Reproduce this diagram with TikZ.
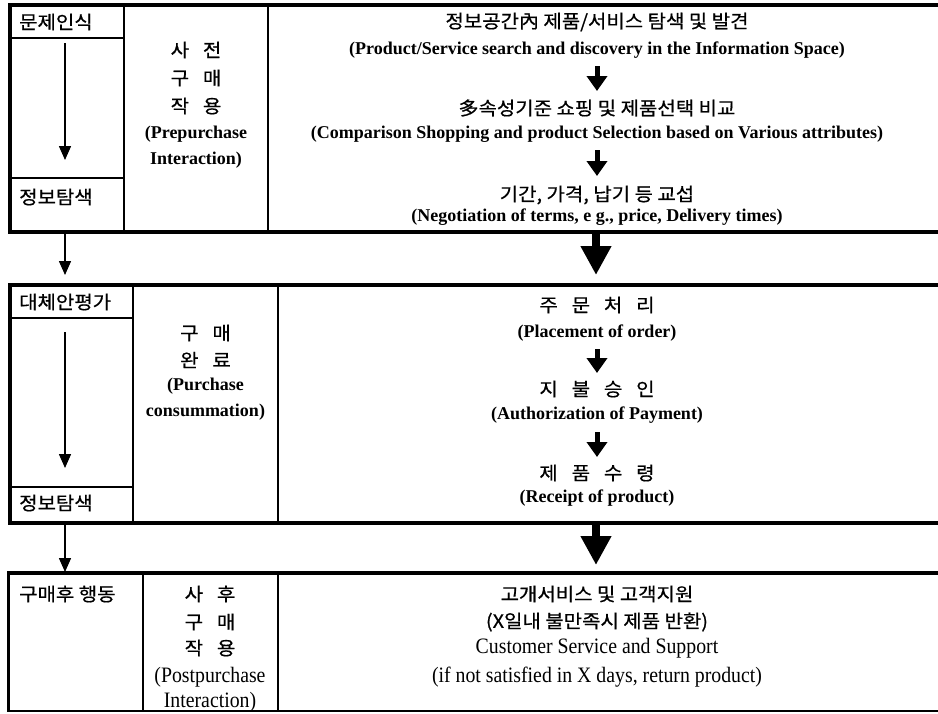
\documentclass[tikz,border=0pt]{standalone}
\usepackage{fontspec}
\setmainfont{Liberation Serif}
\newfontfamily\kr[FakeStretch=1.08,FakeBold=0.6]{Noto Sans CJK KR}
\newfontfamily\enc[FakeStretch=0.9]{Liberation Serif}
\usetikzlibrary{arrows.meta}
\tikzset{
  thickrule/.style={line width=4pt, line join=miter},
  thinrule/.style={line width=2pt},
  kr/.style={font=\kr\fontsize{18.5}{20}\selectfont, inner sep=0pt},
  en/.style={font=\bfseries\fontsize{18}{20}\selectfont, inner sep=0pt},
  ens/.style={font=\enc\fontsize{22}{24}\selectfont, inner sep=0pt},
  thinarrow/.style={line width=1.5pt, -{Triangle[width=12pt,length=14pt]}},
  smallarrow/.style={line width=5pt, -{Triangle[width=20pt,length=15pt]}},
  bigarrow/.style={line width=8pt, -{Triangle[width=29pt,length=29pt]}}
}
\newcommand{\gap}{\hspace{0.75em}}
\begin{document}
\begin{tikzpicture}[x=1pt,y=-1pt]
\useasboundingbox (0,0) rectangle (938,713);
% ---------- block 1 ----------
\draw[thickrule] (938,5) -- (10,5) -- (10,232) -- (938,232);
\draw[thinrule] (124,5) -- (124,232) (268,5) -- (268,232)
  (10,38) -- (124,38) (10,178) -- (124,178);
\node[kr, anchor=west] (p1) at (19,22) {문제인식};
\node[kr, anchor=west] (p2) at (19,197) {정보탐색};
\coordinate (la1) at (65,43);
\coordinate (la2) at (65,160);
\draw[thinarrow] (la1) -- (la2);
\node[kr] (m1a) at (196,50) {사\gap 전};
\node[kr] (m1b) at (196,78) {구\gap 매};
\node[kr] (m1c) at (196,106) {작\gap 용};
\node[en] (m1d) at (196,134) {(Prepurchase};
\node[en] (m1e) at (196,160) {Interaction)};
\node[kr] (r1a) at (597,22) {정보공간內 제품/서비스 탐색 및 발견};
\node[en] (r1b) at (597,50) {(Product/Service search and discovery in the Information Space)};
\coordinate (ra1) at (597,66);
\coordinate (ra2) at (597,91);
\draw[smallarrow] (ra1) -- (ra2);
\node[kr] (r1c) at (597,108) {多속성기준 쇼핑 및 제품선택 비교};
\node[en] (r1d) at (597,134) {(Comparison Shopping and product Selection based on Various attributes)};
\coordinate (ra3) at (597,150);
\coordinate (ra4) at (597,176);
\draw[smallarrow] (ra3) -- (ra4);
\node[kr] (r1e) at (597,195) {기간, 가격, 납기 등 교섭};
\node[en] (r1f) at (597,217) {(Negotiation of terms, e g., price, Delivery times)};
% ---------- gap 1 ----------
\coordinate (g1a) at (65,234);
\coordinate (g1b) at (65,275);
\draw[thinarrow] (g1a) -- (g1b);
\coordinate (g1c) at (596,234);
\coordinate (g1d) at (596,275);
\draw[bigarrow] (g1c) -- (g1d);
% ---------- block 2 ----------
\draw[thickrule] (938,285) -- (10,285) -- (10,523) -- (938,523);
\draw[thinrule] (133,285) -- (133,523) (278,285) -- (278,523)
  (10,318) -- (133,318) (10,487) -- (133,487);
\node[kr, anchor=west] (q1) at (19,302) {대체안평가};
\node[kr, anchor=west] (q2) at (19,503) {정보탐색};
\coordinate (lb1) at (65,332);
\coordinate (lb2) at (65,468);
\draw[thinarrow] (lb1) -- (lb2);
\node[kr] (m2a) at (205.5,333) {구\gap 매};
\node[kr] (m2b) at (205.5,360) {완\gap 료};
\node[en] (m2c) at (205.5,386) {(Purchase};
\node[en] (m2d) at (205.5,412) {consummation)};
\node[kr] (r2a) at (597,305) {주\gap 문\gap 처\gap 리};
\node[en] (r2b) at (597,333) {(Placement of order)};
\coordinate (rb1) at (597,349);
\coordinate (rb2) at (597,373);
\draw[smallarrow] (rb1) -- (rb2);
\node[kr] (r2c) at (597,389) {지\gap 불\gap 승\gap 인};
\node[en] (r2d) at (597,415) {(Authorization of Payment)};
\coordinate (rb3) at (597,432);
\coordinate (rb4) at (597,457);
\draw[smallarrow] (rb3) -- (rb4);
\node[kr] (r2e) at (597,473) {제\gap 품\gap 수\gap 령};
\node[en] (r2f) at (597,498) {(Receipt of product)};
% ---------- gap 2 ----------
\coordinate (g2a) at (65,525);
\coordinate (g2b) at (65,572);
\draw[thinarrow] (g2a) -- (g2b);
\coordinate (g2c) at (596,525);
\coordinate (g2d) at (596,565);
\draw[bigarrow] (g2c) -- (g2d);
% ---------- block 3 ----------
\draw[thickrule] (938,573) -- (9,573);
\draw[line width=3pt] (8,571) -- (8,712);
\draw[thinrule] (7,711) -- (938,711);
\draw[thinrule] (143,573) -- (143,711) (278,573) -- (278,711);
\node[kr, anchor=west] (s1) at (19,594) {구매후 행동};
\node[kr] (m3a) at (210,594) {사\gap 후};
\node[kr] (m3b) at (210,622) {구\gap 매};
\node[kr] (m3c) at (210,648) {작\gap 용};
\node[ens] (m3d) at (210,677) {(Postpurchase};
\node[ens] (m3e) at (210,702) {Interaction)};
\node[kr] (r3a) at (597,594) {고개서비스 및 고객지원};
\node[kr] (r3b) at (597,622) {(X일내 불만족시 제품 반환)};
\node[ens] (r3c) at (597,648) {Customer Service and Support};
\node[ens] (r3d) at (597,677) {(if not satisfied in X days, return product)};
\end{tikzpicture}
\end{document}
